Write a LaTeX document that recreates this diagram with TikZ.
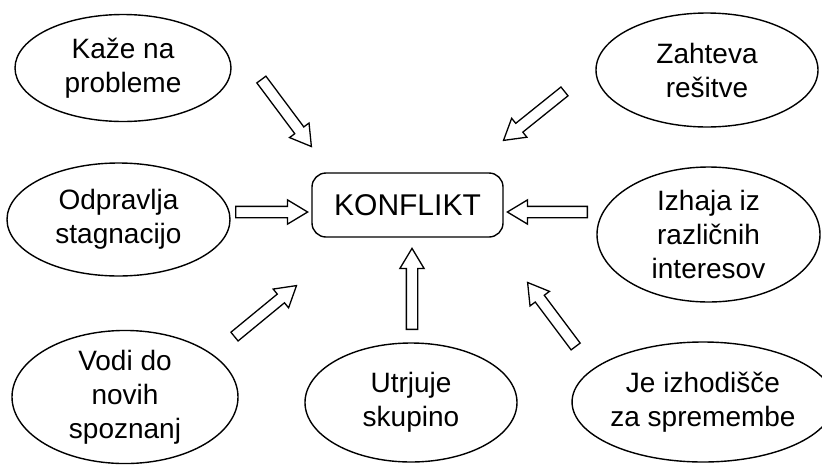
\documentclass[tikz,border=0pt]{standalone}
\usepackage{fontspec}
\setmainfont{Liberation Sans}
\usetikzlibrary{shapes.geometric, shapes.arrows, calc}

\tikzset{
	idea/.style={ellipse, draw, line width=1.4pt, align=center, inner sep=0pt,
		font=\fontsize{28}{34}\selectfont},
	konfliktbox/.style={rectangle, draw, line width=1.4pt, rounded corners=14pt,
		minimum width=191pt, minimum height=64pt, font=\fontsize{30}{36}\selectfont},
	hollowarrow/.style={single arrow, draw, line width=1.3pt, inner ysep=5pt, inner xsep=0pt,
		minimum width=23pt, single arrow head extend=6.5pt, single arrow tip angle=62},
	blockarrow/.style={to path={let \p1=($(\tikztotarget)-(\tikztostart)$),
		\n1={veclen(\x1,\y1)}, \n2={atan2(\y1,\x1)} in
		node[hollowarrow, minimum height=\n1, rotate=\n2, anchor=tail] at (\tikztostart) {}}}
}

\begin{document}
\begin{tikzpicture}[x=1pt, y=-1pt]
	\useasboundingbox (0,0) rectangle (822,464);
	% centre
	\node[konfliktbox] (konflikt) at (407.5,205) {KONFLIKT};
	% left side
	\node[idea, minimum width=216pt, minimum height=107pt] (kaze) at (123,68) {Kaže na\\probleme};
	\node[idea, minimum width=223pt, minimum height=113pt] (odpravlja) at (118.5,219.5) {Odpravlja\\stagnacijo};
	\node[idea, minimum width=226pt, minimum height=126pt] (vodi) at (125,397) {Vodi do\\novih\\spoznanj};
	% bottom
	\node[idea, minimum width=212pt, minimum height=119pt] (utrjuje) at (411,402.5) {Utrjuje\\skupino};
	% right side
	\node[idea, minimum width=234pt, minimum height=120pt] (izhodisce) at (703,402) {Je izhodišče\\za spremembe};
	\node[idea, minimum width=223pt, minimum height=135pt] (izhaja) at (708.5,234.5) {Izhaja iz\\različnih\\interesov};
	\node[idea, minimum width=222pt, minimum height=114pt] (zahteva) at (707,70) {Zahteva\\rešitve};
	% arrow ends
	\coordinate (kaze-t) at (261,79);      \coordinate (kaze-h) at (311,146);
	\coordinate (odpravlja-t) at (235,212); \coordinate (odpravlja-h) at (307,212);
	\coordinate (vodi-t) at (234,337);      \coordinate (vodi-h) at (296,286);
	\coordinate (utrjuje-t) at (412,330);   \coordinate (utrjuje-h) at (412,249);
	\coordinate (izhodisce-t) at (576,347); \coordinate (izhodisce-h) at (528,283);
	\coordinate (izhaja-t) at (588,212);    \coordinate (izhaja-h) at (508,212);
	\coordinate (zahteva-t) at (565,91);    \coordinate (zahteva-h) at (504,140);
	% arrows
	\path (kaze-t) to[blockarrow] (kaze-h);
	\path (odpravlja-t) to[blockarrow] (odpravlja-h);
	\path (vodi-t) to[blockarrow] (vodi-h);
	\path (utrjuje-t) to[blockarrow] (utrjuje-h);
	\path (izhodisce-t) to[blockarrow] (izhodisce-h);
	\path (izhaja-t) to[blockarrow] (izhaja-h);
	\path (zahteva-t) to[blockarrow] (zahteva-h);
\end{tikzpicture}
\end{document}
